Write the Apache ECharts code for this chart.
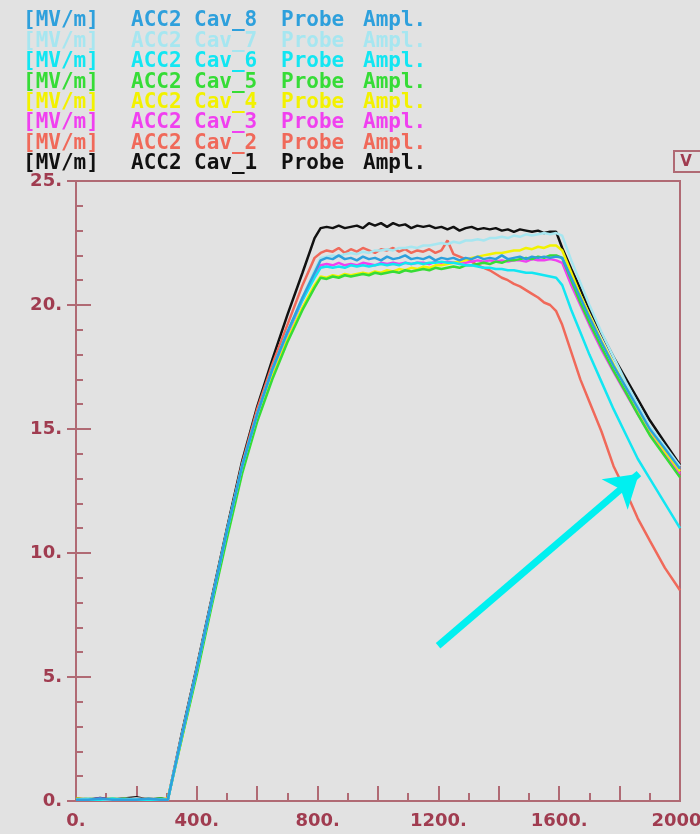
<!DOCTYPE html>
<html>
<head>
<meta charset="utf-8">
<script src="https://cdn.jsdelivr.net/npm/echarts@6/dist/echarts.min.js"></script>
<style>
html,body{margin:0;padding:0;background:#e2e2e2;}
#chart{width:700px;height:834px;}
</style>
</head>
<body>
<div id="chart"></div>
<script>
// ---- data ----
const xs = [0,40,80,120,160,200,240,280,304,350,400,450,500,550,600,650,700,750,790,
  810,830,850,870,890,910,930,950,970,990,1010,1030,1050,1070,1090,1110,1130,1150,1170,1190,
  1210,1230,1250,1270,1290,1310,1330,1350,1370,1390,1410,1430,1450,1470,1490,1510,1530,1550,1570,1590,
  1610,1640,1670,1700,1740,1780,1820,1860,1900,1950,2000];

const cav1 = [0.1,0.05,0.12,0.05,0.1,0.15,0.05,0.1,0.05,
  2.7,5.4,8.2,11.0,13.7,15.9,17.8,19.6,21.3,22.7,
  23.1,23.15,23.1,23.2,23.1,23.15,23.2,23.1,23.3,23.2,
  23.3,23.15,23.3,23.2,23.25,23.1,23.2,23.15,23.2,23.1,
  23.15,23.05,23.15,23.0,23.1,23.15,23.05,23.1,23.05,23.1,
  23.0,23.05,22.95,23.05,23.0,22.95,23.0,22.9,22.95,22.95,
  22.3,21.45,20.65,19.85,18.85,17.9,17.05,16.2,15.35,14.45,13.55];
const cav2 = [0.05,0.1,0.05,0.1,0.05,0.1,0.05,0.05,0.1,
  2.6,5.3,8.1,10.9,13.6,15.8,17.6,19.2,20.8,21.9,
  22.1,22.2,22.15,22.3,22.1,22.25,22.15,22.3,22.2,22.1,
  22.25,22.2,22.3,22.15,22.25,22.1,22.2,22.15,22.25,22.1,
  22.2,22.6,22.05,21.95,21.85,21.75,21.6,21.5,21.4,21.25,
  21.1,21.0,20.85,20.75,20.6,20.45,20.3,20.1,20.0,19.75,
  19.2,18.1,17.0,16.1,14.9,13.5,12.5,11.4,10.5,9.4,8.5];
const cav3 = [0.05,0.05,0.1,0.05,0.1,0.05,0.1,0.05,0.05,
  2.6,5.3,8.1,10.8,13.4,15.5,17.3,18.8,20.2,21.2,
  21.6,21.65,21.6,21.7,21.6,21.65,21.6,21.7,21.65,21.6,
  21.7,21.65,21.7,21.65,21.7,21.65,21.7,21.7,21.65,21.75,
  21.7,21.75,21.7,21.75,21.7,21.75,21.8,21.75,21.8,21.75,
  21.8,21.75,21.8,21.8,21.75,21.85,21.8,21.8,21.85,21.8,
  21.7,20.8,20.0,19.2,18.2,17.3,16.45,15.6,14.8,14.0,13.2];
const cav4 = [0.1,0.05,0.05,0.1,0.05,0.05,0.1,0.05,0.1,
  2.5,5.2,8.0,10.7,13.3,15.4,17.1,18.6,19.9,20.8,
  21.15,21.1,21.2,21.15,21.25,21.2,21.25,21.3,21.25,21.35,
  21.3,21.4,21.35,21.45,21.4,21.5,21.45,21.55,21.5,21.6,
  21.6,21.65,21.7,21.75,21.8,21.9,21.95,22.0,22.05,22.1,
  22.1,22.15,22.2,22.2,22.3,22.25,22.35,22.3,22.4,22.4,
  22.2,21.3,20.4,19.6,18.55,17.6,16.7,15.8,14.95,14.1,13.3];
const cav5 = [0.05,0.1,0.05,0.05,0.1,0.05,0.05,0.1,0.05,
  2.5,5.1,7.9,10.6,13.2,15.3,17.0,18.5,19.8,20.7,
  21.1,21.05,21.15,21.1,21.2,21.15,21.2,21.25,21.2,21.3,
  21.25,21.3,21.35,21.3,21.4,21.35,21.4,21.45,21.4,21.5,
  21.45,21.5,21.55,21.5,21.6,21.6,21.65,21.7,21.65,21.75,
  21.7,21.8,21.8,21.85,21.9,21.85,21.95,21.9,22.0,22.0,
  21.9,21.0,20.1,19.3,18.3,17.35,16.5,15.6,14.75,13.9,13.05];
const cav6 = [0.05,0.05,0.05,0.1,0.05,0.05,0.05,0.05,0.05,
  2.6,5.3,8.1,10.9,13.5,15.6,17.4,18.9,20.2,21.1,
  21.5,21.55,21.5,21.55,21.5,21.6,21.55,21.6,21.55,21.6,
  21.65,21.6,21.65,21.6,21.7,21.65,21.7,21.65,21.7,21.7,
  21.75,21.7,21.7,21.65,21.6,21.6,21.55,21.5,21.5,21.45,
  21.45,21.4,21.4,21.35,21.3,21.3,21.25,21.2,21.15,21.1,
  20.8,19.8,18.9,18.0,16.9,15.8,14.8,13.8,13.0,12.0,11.0];
const cav7 = [0.05,0.1,0.05,0.05,0.05,0.1,0.05,0.05,0.05,
  2.6,5.3,8.1,10.9,13.5,15.6,17.4,18.9,20.3,21.4,
  21.9,21.95,22.0,21.95,22.05,22.1,22.05,22.15,22.1,22.2,
  22.2,22.25,22.2,22.3,22.3,22.35,22.3,22.4,22.4,22.45,
  22.5,22.45,22.55,22.5,22.6,22.6,22.65,22.6,22.7,22.7,
  22.75,22.7,22.8,22.75,22.85,22.8,22.85,22.9,22.85,22.9,
  22.8,21.8,20.9,20.0,18.9,17.9,16.9,16.0,15.1,14.3,13.5];
const cav8 = [0.05,0.05,0.1,0.05,0.05,0.05,0.1,0.05,0.05,
  2.6,5.3,8.1,10.9,13.5,15.6,17.4,18.9,20.3,21.3,
  21.8,21.9,21.85,22.0,21.85,21.9,21.8,21.95,21.85,21.9,
  21.8,21.95,21.85,21.9,22.0,21.85,21.9,21.85,21.95,21.8,
  21.9,21.85,21.9,21.8,21.9,21.85,21.95,21.85,21.9,21.85,
  22.0,21.85,21.9,21.95,21.85,21.95,21.9,21.95,21.9,21.95,
  21.9,21.1,20.3,19.5,18.5,17.55,16.7,15.85,15.0,14.2,13.4];

const seriesNames = ['Cav_1','Cav_2','Cav_3','Cav_4','Cav_5','Cav_6','Cav_7','Cav_8'];
const seriesValues = [cav1,cav2,cav3,cav4,cav5,cav6,cav7,cav8];
const xTicks = [0,400,800,1200,1600,2000];
const yTicks = [0,5,10,15,20,25];
// annotation arrow (data coordinates)
const arrowFrom = [1199, 6.26];
const arrowTo = [1864, 13.2];

// ---- styles ----
const colors = {
  Cav_1:'#111111', Cav_2:'#f0695a', Cav_3:'#f040f0', Cav_4:'#f2f200',
  Cav_5:'#36dc36', Cav_6:'#12e6f2', Cav_7:'#a6e6f0', Cav_8:'#2ea0dc'
};
const drawOrder = ['Cav_1','Cav_2','Cav_3','Cav_4','Cav_5','Cav_7','Cav_6','Cav_8'];
const axisCol = '#b06a74';
const labCol = '#a03c50';

const chart = echarts.init(document.getElementById('chart'), null, {renderer:'canvas'});

const series = drawOrder.map(name => {
  const vals = seriesValues[seriesNames.indexOf(name)];
  const s = {
    name: name, type:'line', showSymbol:false, symbol:'none', silent:true,
    lineStyle:{color:colors[name], width:2.5},
    data: xs.map((x,i)=>[x, vals[i]])
  };
  if (name === 'Cav_8') {
    s.markLine = {
      silent:true, symbol:['none','arrow'], symbolSize:[30,32],
      label:{show:false}, emphasis:{disabled:true},
      lineStyle:{color:'#00f0f0', width:7, type:'solid'},
      data:[[{coord:arrowFrom},{coord:arrowTo}]]
    };
  }
  return s;
});

// legend-like header texts (top to bottom: Cav_8 ... Cav_1)
const graphic = [];
const headerOrder = ['Cav_8','Cav_7','Cav_6','Cav_5','Cav_4','Cav_3','Cav_2','Cav_1'];
headerOrder.forEach((name, i) => {
  const y = 21 + i * 20.35;
  const tokens = [['[MV/m]',23],['ACC2',131],[name,194],['Probe',281],['Ampl.',363]];
  tokens.forEach(t => {
    graphic.push({type:'text', x:t[1], y:y, silent:true,
      style:{text:t[0], fill:colors[name], font:'bold 21px "DejaVu Sans Mono"', verticalAlign:'middle', align:'left'}});
  });
});
graphic.push({type:'rect', shape:{x:674, y:151, width:34, height:21}, silent:true,
  style:{fill:'none', stroke:axisCol, lineWidth:2}});
graphic.push({type:'text', x:686, y:162, silent:true,
  style:{text:'V', fill:labCol, font:'bold 15px "DejaVu Sans"', verticalAlign:'middle', align:'center'}});

chart.setOption({
  backgroundColor:'#e2e2e2',
  animation:false,
  grid:{left:76, right:20, top:181, bottom:33, show:true, borderColor:axisCol, borderWidth:2,
        backgroundColor:'transparent', outerBoundsMode:'none', containLabel:false},
  xAxis:{
    type:'value', min:0, max:2000, interval:200,
    axisLine:{lineStyle:{color:axisCol, width:2}},
    axisTick:{inside:true, length:15, lineStyle:{color:axisCol, width:2}},
    minorTick:{show:true, splitNumber:2, length:8, lineStyle:{color:axisCol, width:2}},
    splitLine:{show:false},
    axisLabel:{color:labCol, fontFamily:'DejaVu Sans', fontWeight:'bold', fontSize:18, margin:11,
      showMinLabel:true, showMaxLabel:true,
      formatter: v => xTicks.indexOf(v) >= 0 ? v + '.' : ''}
  },
  yAxis:[{
    type:'value', min:0, max:25, interval:5,
    axisLine:{show:true, lineStyle:{color:axisCol, width:2}},
    axisTick:{show:true, inside:true, length:15, lineStyle:{color:axisCol, width:2}},
    minorTick:{show:true, splitNumber:5, length:7, lineStyle:{color:axisCol, width:2}},
    splitLine:{show:false},
    axisLabel:{color:labCol, fontFamily:'DejaVu Sans', fontWeight:'bold', fontSize:18, margin:14,
      showMinLabel:true, showMaxLabel:true,
      formatter: v => yTicks.indexOf(v) >= 0 ? v + '.' : ''}
  },{
    type:'value', min:0, max:25, interval:5, position:'left',
    axisLine:{show:false},
    axisTick:{show:true, inside:false, length:9, lineStyle:{color:axisCol, width:2}},
    axisLabel:{show:false}, splitLine:{show:false}
  }],
  series: series,
  graphic: graphic
});
</script>
</body>
</html>
